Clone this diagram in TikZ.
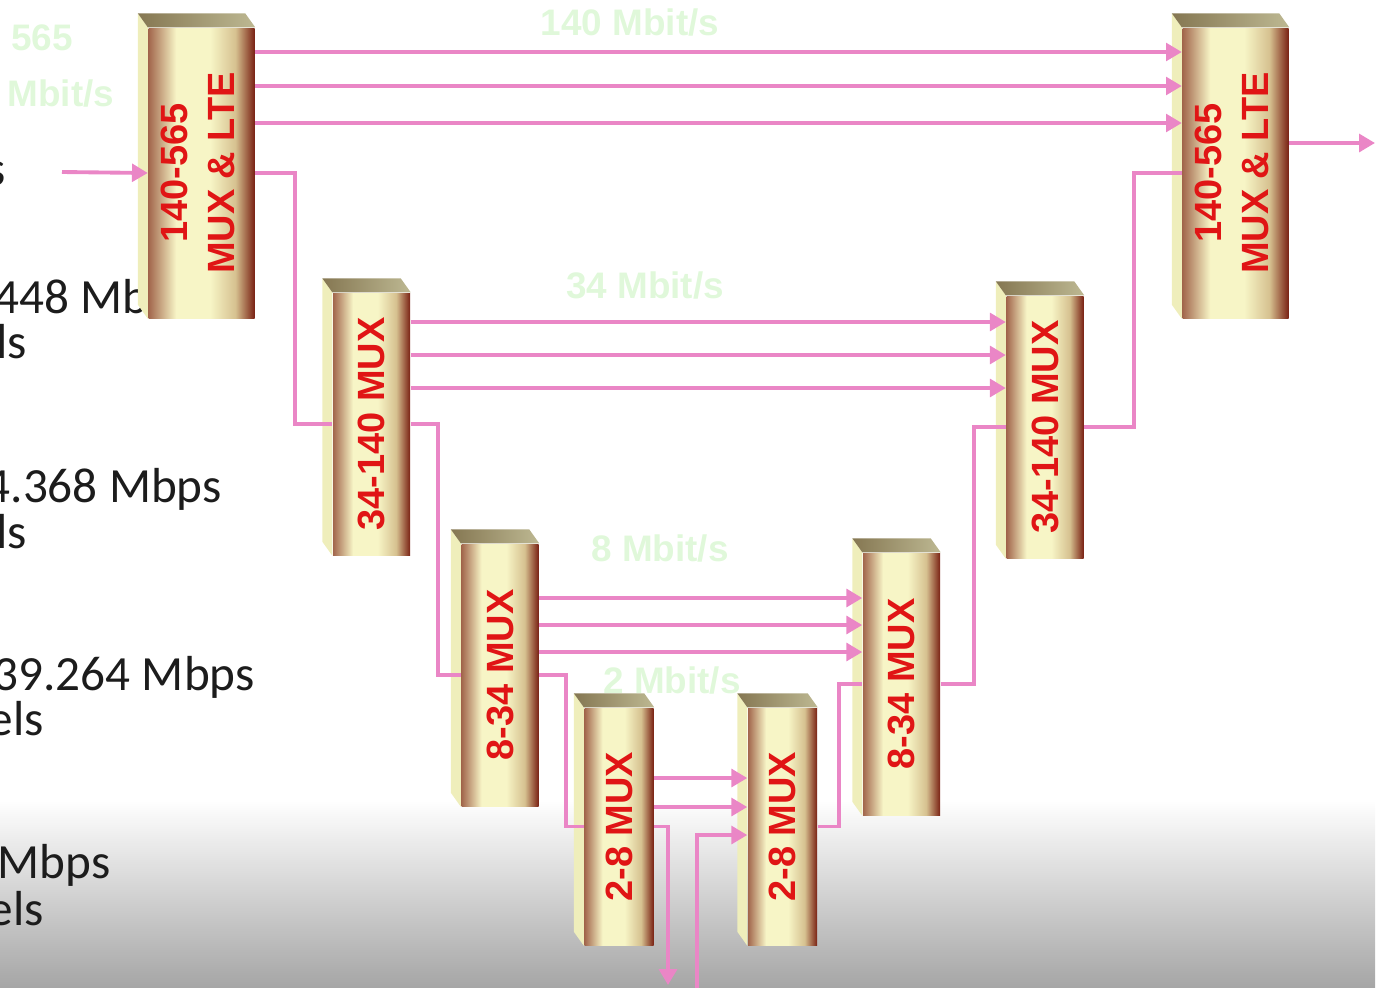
\documentclass[tikz,border=0pt]{standalone}
\usepackage{fontspec}
\setmainfont{Carlito}
\newfontfamily\muxfont{Liberation Sans}
\usepackage{xcolor}
\definecolor{MUXred}{HTML}{E01515}
\definecolor{MUXdark}{HTML}{7A2214}
\definecolor{MUXedge}{HTML}{A2664C}
\definecolor{MUXpale}{HTML}{F7F5C6}
\definecolor{MUXmid}{HTML}{D6C190}
\definecolor{MUXtopA}{HTML}{857752}
\definecolor{MUXtopB}{HTML}{BDB892}
\definecolor{MUXside}{HTML}{EFEEBB}
\definecolor{LINKpink}{HTML}{EA86C6}
\definecolor{RATEgreen}{HTML}{E0F8DA}
\definecolor{TXTgray}{HTML}{1C1C1C}
\usetikzlibrary{arrows.meta, calc}
\pgfdeclarehorizontalshading{muxface}{100bp}{color(0bp)=(MUXedge); color(25bp)=(MUXedge); color(38bp)=(MUXpale); color(54bp)=(MUXpale); color(66bp)=(MUXmid); color(75bp)=(MUXdark); color(100bp)=(MUXdark)}

\begin{document}
\begin{tikzpicture}
    \tikzset{
  muxbox/.style={rectangle, shade, shading=muxface, inner sep=0, text=MUXred,
    font=\muxfont\bfseries\fontsize{10.8}{13.5}\selectfont},
  bigmux/.style={muxbox, minimum width=1.06cm, minimum height=2.90cm},
  midmux/.style={muxbox, minimum width=0.77cm, minimum height=2.62cm},
  smallmux/.style={muxbox, minimum width=0.69cm, minimum height=2.37cm},
  muxtop/.style={left color=MUXtopA, right color=MUXtopB},
  muxside/.style={fill=MUXside},
  link/.style={LINKpink, line width=1.1pt},
  arrowlink/.style={link, -{Triangle[length=4.5pt, width=5pt]}},
  ratetxt/.style={text=TXTgray, anchor=base west, inner sep=0,
    font=\fontsize{14}{14}\selectfont},
  ratelab/.style={text=RATEgreen, inner sep=0,
    font=\muxfont\bfseries\fontsize{10.5}{10.5}\selectfont},
}
\useasboundingbox (0,0) rectangle (13.89,-9.87);
\clip (0,0) rectangle (13.89,-9.87);

% ── Background fade at the bottom ───────────────────────────
\shade[top color=white, bottom color=black!35] (0,-8.0) rectangle (13.75,-9.87);

% ── Rates on the left (cut by the frame) ────────────────────
\node[ratetxt] (r565b) at (-0.14,-1.85) {s};
\node[ratetxt] (r140a) at (-0.06,-3.13) {448 Mb};
\node[ratetxt] (r140b) at (-0.04,-3.58) {ls};
\node[ratetxt] (r34a)  at (-0.15,-5.02) {4.368 Mbps};
\node[ratetxt] (r34b)  at (-0.04,-5.48) {ls};
\node[ratetxt] (r8a)   at (-0.07,-6.90) {39.264 Mbps};
\node[ratetxt] (r8b)   at (-0.12,-7.35) {els};
\node[ratetxt] (r2a)   at (-0.03,-8.78) {Mbps};
\node[ratetxt] (r2b)   at (-0.12,-9.25) {els};

% ── Channel rates (faint) ───────────────────────────────────
\node[ratelab] (g565a) at (0.42,-0.38) {565};
\node[ratelab] (g565b) at (0.61,-0.93) {Mbit/s};
\node[ratelab] (g140) at (6.30,-0.22) {140 Mbit/s};
\node[ratelab] (g34)  at (6.45,-2.85) {34 Mbit/s};
\node[ratelab] (g8)   at (6.60,-5.48) {8 Mbit/s};
\node[ratelab] (g2)   at (6.72,-6.80) {2 Mbit/s};

% ── MUX blocks ──────────────────────────────────────────────
\node[bigmux] (mux565L) at (2.015,-1.73)
  {\rotatebox{90}{\begin{tabular}{@{}c@{}}140-565\\MUX \& LTE\end{tabular}}};
\node[bigmux] (mux565R) at (12.355,-1.73)
  {\rotatebox{90}{\begin{tabular}{@{}c@{}}140-565\\MUX \& LTE\end{tabular}}};
\node[midmux] (mux140L) at (3.715,-4.24) {\rotatebox{90}{34-140 MUX}};
\node[midmux] (mux140R) at (10.45,-4.27) {\rotatebox{90}{34-140 MUX}};
\node[midmux] (mux34L) at (5.00,-6.75) {\rotatebox{90}{8-34 MUX}};
\node[midmux] (mux34R) at (9.015,-6.84) {\rotatebox{90}{8-34 MUX}};
\node[smallmux] (mux8L) at (6.19,-8.265) {\rotatebox{90}{2-8 MUX}};
\node[smallmux] (mux8R) at (7.825,-8.265) {\rotatebox{90}{2-8 MUX}};

% top and side faces
\foreach \b in {mux565L, mux565R, mux140L, mux140R, mux34L, mux34R, mux8L, mux8R} {
  \fill[muxside] (\b.north west) -- ++(-0.10,0.14)
    -- ($(\b.south west)+(-0.10,0.14)$) -- (\b.south west) -- cycle;
  \shade[muxtop] (\b.north west) -- ++(-0.10,0.14)
    -- ($(\b.north east)+(-0.10,0.14)$) -- (\b.north east) -- cycle;
}

% ── Line in and out ─────────────────────────────────────────
\coordinate (in) at (0.62,-1.72);
\coordinate (out) at (13.75,-1.43);
\draw[arrowlink] (in) -- (mux565L.west);
\draw[arrowlink] ([yshift=0.30cm]mux565R.east) -- (out);

% ── Parallel channels between the pairs ─────────────────────
\foreach \y in {-0.52,-0.86,-1.23}
  \draw[arrowlink] (mux565L.east |- 0,\y) -- (mux565R.west |- 0,\y);
\foreach \y in {-3.22,-3.55,-3.88}
  \draw[arrowlink] (mux140L.east |- 0,\y) -- (mux140R.west |- 0,\y);
\foreach \y in {-5.98,-6.25,-6.52}
  \draw[arrowlink] (mux34L.east |- 0,\y) -- (mux34R.west |- 0,\y);
\foreach \y in {-7.78,-8.07}
  \draw[arrowlink] (mux8L.east |- 0,\y) -- (mux8R.west |- 0,\y);

% ── Down the left side ──────────────────────────────────────
\draw[link] (mux565L.east) -- ++(0.40,0) |- (mux140L.west);
\draw[link] (mux140L.east) -- ++(0.27,0) |- (mux34L.west);
\draw[link] (mux34L.east) -- ++(0.27,0) |- (mux8L.west);

% 2 Mbit/s tributaries out and in
\coordinate (drop) at (6.68,-9.85);
\coordinate (add) at (6.97,-9.90);
\draw[arrowlink] (mux8L.east) -| (drop);
\draw[arrowlink] (add) |- ([yshift=-0.085cm]mux8R.west);

% ── Up the right side ───────────────────────────────────────
\draw[link] (mux8R.east) -- ++(0.21,0) |- (mux34R.west);
\draw[link] (mux34R.east) -- ++(0.33,0) |- (mux140R.west);
\draw[link] (mux140R.east) -- ++(0.50,0) |- (mux565R.west);

  \end{tikzpicture}
\end{document}
